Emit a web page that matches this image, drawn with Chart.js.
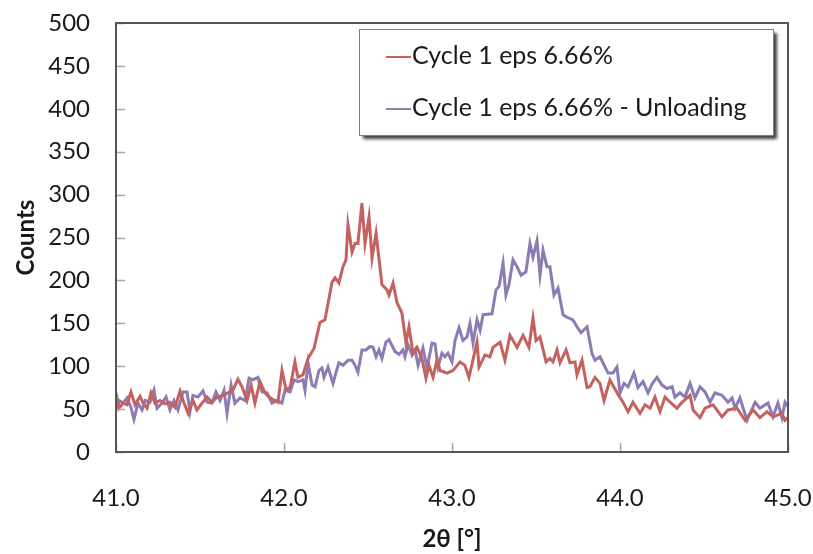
<!DOCTYPE html>
<html>
<head>
<meta charset="utf-8">
<script src="https://cdn.jsdelivr.net/npm/chart.js@4"></script>
<style>
  body { margin: 0; background: #fff; }
  #wrap { width: 813px; height: 554px; }
</style>
</head>
<body>
<div id="wrap"><canvas id="chart" width="813" height="554"></canvas></div>
<script>
// 2theta positions and counts
const loadX = [41.000, 41.018, 41.042, 41.065, 41.089, 41.113, 41.143, 41.161, 41.185, 41.208,
  41.232, 41.262, 41.292, 41.321, 41.351, 41.381, 41.405, 41.429, 41.458, 41.482,
  41.512, 41.542, 41.571, 41.601, 41.637, 41.667, 41.696, 41.726, 41.750, 41.780,
  41.804, 41.827, 41.857, 41.887, 41.917, 41.946, 41.964, 41.988, 42.012, 42.036,
  42.065, 42.083, 42.113, 42.143, 42.179, 42.214, 42.244, 42.286, 42.304, 42.327,
  42.351, 42.369, 42.381, 42.405, 42.423, 42.440, 42.464, 42.482, 42.506, 42.524,
  42.548, 42.583, 42.613, 42.625, 42.649, 42.673, 42.702, 42.726, 42.744, 42.768,
  42.792, 42.821, 42.845, 42.863, 42.887, 42.911, 42.929, 42.970, 43.006, 43.048,
  43.077, 43.101, 43.149, 43.161, 43.196, 43.226, 43.244, 43.286, 43.315, 43.345,
  43.387, 43.423, 43.458, 43.482, 43.500, 43.524, 43.560, 43.583, 43.601, 43.625,
  43.643, 43.679, 43.702, 43.732, 43.744, 43.774, 43.804, 43.821, 43.851, 43.881,
  43.905, 43.940, 43.982, 44.018, 44.048, 44.077, 44.119, 44.149, 44.179, 44.208,
  44.238, 44.268, 44.298, 44.339, 44.369, 44.417, 44.435, 44.476, 44.506, 44.554,
  44.607, 44.643, 44.696, 44.744, 44.792, 44.833, 44.875, 44.911, 44.964, 44.982, 45.000];
const loadY = [69, 51, 57, 55, 70, 55, 65, 57, 51, 69,
  57, 60, 56, 58, 52, 71, 57, 45, 60, 49,
  57, 64, 58, 64, 66, 69, 72, 85, 76, 60,
  78, 57, 82, 69, 63, 60, 58, 95, 73, 75,
  105, 87, 90, 109, 121, 151, 154, 198, 203, 197,
  216, 224, 265, 233, 243, 243, 290, 243, 274, 226,
  255, 195, 189, 183, 197, 174, 162, 127, 146, 115,
  122, 109, 86, 101, 87, 107, 95, 92, 95, 105,
  101, 87, 128, 99, 113, 111, 122, 128, 107, 136,
  122, 136, 122, 156, 130, 134, 105, 109, 105, 119,
  104, 119, 104, 105, 90, 107, 75, 76, 87, 80,
  60, 84, 69, 58, 47, 58, 45, 55, 51, 64,
  47, 64, 58, 51, 58, 66, 49, 40, 51, 55,
  41, 49, 51, 37, 49, 40, 47, 41, 45, 37, 40];

const unloadX = [41.000, 41.018, 41.042, 41.065, 41.089, 41.107, 41.131, 41.155, 41.173, 41.202,
  41.226, 41.244, 41.274, 41.298, 41.321, 41.345, 41.369, 41.399, 41.423, 41.440,
  41.458, 41.488, 41.518, 41.542, 41.571, 41.595, 41.619, 41.643, 41.661, 41.685,
  41.708, 41.738, 41.768, 41.792, 41.815, 41.845, 41.869, 41.899, 41.929, 41.958,
  41.988, 42.006, 42.036, 42.060, 42.083, 42.113, 42.125, 42.143, 42.167, 42.185,
  42.208, 42.226, 42.238, 42.262, 42.292, 42.310, 42.327, 42.351, 42.381, 42.405,
  42.423, 42.440, 42.464, 42.488, 42.512, 42.530, 42.548, 42.565, 42.583, 42.607,
  42.625, 42.661, 42.685, 42.708, 42.720, 42.738, 42.762, 42.780, 42.798, 42.827,
  42.851, 42.881, 42.899, 42.917, 42.940, 42.958, 42.976, 43.000, 43.018, 43.042,
  43.065, 43.089, 43.107, 43.125, 43.149, 43.167, 43.185, 43.238, 43.262, 43.280,
  43.304, 43.321, 43.339, 43.363, 43.387, 43.411, 43.440, 43.464, 43.482, 43.506,
  43.524, 43.542, 43.565, 43.583, 43.607, 43.631, 43.661, 43.685, 43.720, 43.744,
  43.768, 43.804, 43.833, 43.851, 43.881, 43.911, 43.929, 43.958, 43.982, 44.000,
  44.024, 44.048, 44.083, 44.107, 44.137, 44.167, 44.190, 44.220, 44.250, 44.280,
  44.310, 44.327, 44.357, 44.387, 44.417, 44.446, 44.476, 44.506, 44.536, 44.565,
  44.607, 44.643, 44.667, 44.685, 44.714, 44.756, 44.804, 44.833, 44.881, 44.911,
  44.940, 44.964, 44.982, 45.000];
const unloadY = [49, 60, 57, 63, 52, 38, 57, 49, 60, 58,
  72, 51, 57, 64, 49, 60, 49, 70, 70, 47,
  66, 64, 71, 58, 57, 70, 60, 72, 45, 78,
  57, 63, 60, 86, 84, 87, 70, 69, 57, 60,
  57, 72, 70, 84, 82, 84, 72, 104, 78, 76,
  95, 98, 87, 99, 80, 93, 104, 101, 107, 107,
  101, 93, 119, 119, 123, 122, 111, 119, 109, 128,
  131, 117, 114, 119, 111, 125, 113, 119, 101, 121,
  98, 127, 126, 99, 115, 111, 115, 105, 130, 145,
  130, 134, 150, 127, 154, 142, 160, 161, 189, 193,
  220, 183, 195, 224, 216, 206, 210, 243, 227, 246,
  206, 235, 216, 216, 183, 191, 160, 157, 154, 146,
  139, 146, 115, 107, 111, 99, 92, 92, 99, 69,
  80, 76, 92, 75, 82, 69, 79, 87, 78, 74,
  76, 64, 69, 64, 80, 63, 76, 70, 58, 69,
  66, 58, 63, 51, 63, 37, 58, 51, 57, 41,
  57, 40, 58, 53];

const seriesNames = ['Cycle 1 eps 6.66%', 'Cycle 1 eps 6.66% - Unloading'];
const seriesColors = ['#c4625f', '#8c7bb4'];
const xTicks = [41, 42, 43, 44, 45];
const yTicks = [0, 50, 100, 150, 200, 250, 300, 350, 400, 450, 500];

const FONT = 'Lato, "Open Sans", sans-serif';

// inner tick marks, the plot frame and the boxed legend
const decor = {
  id: 'decor',
  afterDatasetsDraw(chart) {
    const { ctx, chartArea: a, scales } = chart;
    ctx.save();
    ctx.strokeStyle = '#a8a8a8';
    ctx.lineWidth = 1.5;
    yTicks.forEach(v => {
      const py = Math.round(scales.y.getPixelForValue(v)) + 0.5;
      ctx.beginPath(); ctx.moveTo(a.left, py); ctx.lineTo(a.left + 9, py); ctx.stroke();
    });
    xTicks.forEach(v => {
      const px = Math.round(scales.x.getPixelForValue(v)) + 0.5;
      ctx.beginPath(); ctx.moveTo(px, a.bottom); ctx.lineTo(px, a.bottom - 9); ctx.stroke();
    });
    ctx.strokeStyle = '#555';
    ctx.lineWidth = 2;
    ctx.strokeRect(a.left, a.top, a.right - a.left, a.bottom - a.top);

    // legend box with drop shadow
    const bx = 359, by = 29, bw = 414, bh = 106;
    ctx.save();
    ctx.shadowColor = 'rgba(0,0,0,0.75)';
    ctx.shadowBlur = 3;
    ctx.shadowOffsetX = 4;
    ctx.shadowOffsetY = 4;
    ctx.fillStyle = '#fff';
    ctx.fillRect(bx, by, bw, bh);
    ctx.restore();
    ctx.strokeStyle = '#7f7f7f';
    ctx.lineWidth = 1;
    ctx.strokeRect(bx + 0.5, by + 0.5, bw, bh);

    const rows = [56, 108];
    ctx.font = '25px ' + FONT;
    ctx.textBaseline = 'middle';
    ctx.fillStyle = '#1a1a1a';
    seriesNames.forEach((name, i) => {
      ctx.strokeStyle = seriesColors[i];
      ctx.lineWidth = 2;
      ctx.beginPath(); ctx.moveTo(386, rows[i] + 1); ctx.lineTo(411, rows[i] + 1); ctx.stroke();
      ctx.fillText(name, 412, rows[i]);
    });
    ctx.restore();
  }
};

const ctx = document.getElementById('chart');

new Chart(ctx, {
  type: 'line',
  data: {
    datasets: [
      {
        label: seriesNames[0],
        data: loadX.map((x, i) => ({ x: x, y: loadY[i] })),
        borderColor: seriesColors[0],
        borderWidth: 3,
        pointRadius: 0,
        tension: 0
      },
      {
        label: seriesNames[1],
        data: unloadX.map((x, i) => ({ x: x, y: unloadY[i] })),
        borderColor: seriesColors[1],
        borderWidth: 3,
        pointRadius: 0,
        tension: 0
      }
    ]
  },
  options: {
    responsive: false,
    animation: false,
    layout: { padding: { left: 0, top: 23, right: 25, bottom: 0 } },
    scales: {
      x: {
        type: 'linear',
        min: 41,
        max: 45,
        afterBuildTicks: s => { s.ticks = xTicks.map(v => ({ value: v })); },
        afterFit: s => { s.height = 102; s.paddingLeft = 0; s.paddingRight = 0; },
        grid: { display: false, drawTicks: false },
        border: { display: false },
        ticks: {
          padding: 32,
          color: '#1a1a1a',
          font: { family: FONT, size: 24 },
          callback: v => v.toFixed(1)
        },
        title: {
          display: true,
          text: '2θ [°]',
          color: '#1a1a1a',
          font: { family: FONT, size: 24, weight: 'bold' },
          padding: { top: 0, bottom: 0 }
        }
      },
      y: {
        min: 0,
        max: 500,
        afterBuildTicks: s => { s.ticks = yTicks.map(v => ({ value: v })); },
        afterFit: s => { s.width = 116; s.paddingTop = 0; s.paddingBottom = 0; },
        grid: { display: false, drawTicks: false },
        border: { display: false },
        ticks: {
          padding: 26,
          color: '#1a1a1a',
          font: { family: FONT, size: 24 }
        },
        title: {
          display: true,
          text: 'Counts',
          color: '#1a1a1a',
          font: { family: FONT, size: 24, weight: 'bold' },
          padding: { top: 12, bottom: 0 }
        }
      }
    },
    plugins: {
      legend: { display: false },
      tooltip: { enabled: false }
    }
  },
  plugins: [decor]
});
</script>
</body>
</html>
